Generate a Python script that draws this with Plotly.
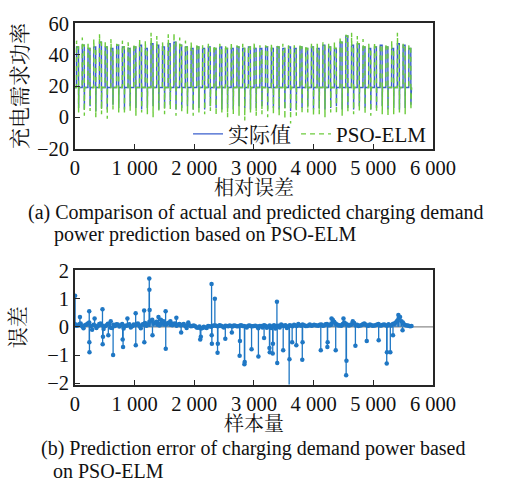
import plotly.graph_objects as go

# ---------------- data ----------------
SAMPLES_PER_DAY = 96

# daily plateau and dip levels of the measured charging demand power
actual_high = [45, 46, 44, 45, 48, 45, 44, 46, 45, 44,
               45, 46, 44, 47, 46, 45, 47, 48, 46, 45,
               44, 45, 44, 45, 44, 45, 44, 44, 45, 44,
               45, 44, 44, 45, 44, 45, 44, 45, 44, 45,
               44, 45, 44, 46, 45, 44, 48, 52, 46, 47,
               45, 44, 45, 46, 45, 44, 47, 46, 44]
actual_dip = [6, 5, 7, 4, 6, 5, 8, 6, 5, 7,
              6, 5, 6, 7, 5, 6, 8, 5, 6, 7,
              5, 6, 5, 7, 6, 5, 6, 5, 7, 6,
              5, 6, 7, 5, 6, 5, 6, 4, 5, 6,
              7, 5, 6, 5, 6, 7, 5, 6, 5, 7,
              6, 5, 6, 7, 5, 6, 5, 6, 8]
actual_night = 19

# PSO-ELM predicted plateau overshoot and dip levels
pred_high = [49, 51, 47, 50, 53, 48, 50, 47, 49, 48,
             47, 50, 49, 54, 52, 48, 53, 54, 51, 49,
             48, 47, 46, 47, 46, 47, 46, 48, 46, 47,
             46, 48, 46, 46, 47, 46, 47, 46, 46, 47,
             46, 47, 47, 48, 47, 48, 51, 53, 54, 52,
             50, 47, 48, 46, 47, 49, 54, 47, 46]
pred_dip = [3, 1, 4, 0, 2, -1, 5, 3, 2, 4,
            1, 3, 2, 0, 4, 2, 5, 1, 3, 2,
            1, 3, 2, 4, 1, 3, 0, 2, 1, -2,
            3, 1, 2, 0, 2, 1, -1, -4, 1, 2,
            3, 1, 2, 0, 3, 2, 1, 3, 2, 4,
            2, 1, 3, 2, 1, 2, 3, 2, 5]
pred_night = 19

# prediction error: background band, samples 0, 48, 96, ...
BAND_STEP = 48
band_err = [0.10, 0.05, 0.12, -0.05, 0.08, 0.15, -0.10, 0.05, 0.02, 0.12,
            -0.08, 0.06, 0.10, -0.04, 0.03, 0.08, 0.05, -0.06, 0.04, 0.09, 0.02,
            0.06, 0.12, -0.05, 0.10, 0.04, 0.18, 0.25, 0.15, 0.08, 0.12,
            0.20, 0.10, 0.15, 0.06, 0.12, 0.08, 0.05, 0.10, -0.04, 0.06, 0.03,
            0.02, -0.03, -0.06, 0.00, -0.04, 0.02, 0.03, 0.05, 0.02, 0.04,
            -0.02, 0.03, 0.05, 0.01, 0.04, 0.02, 0.06, 0.03, -0.02, 0.05, 0.02,
            0.04, -0.05, 0.03, 0.06, -0.03, 0.05, 0.02, -0.06, 0.04, 0.08,
            0.03, -0.04, 0.06, 0.02, 0.05, 0.10, 0.04, 0.06, 0.03, 0.08, 0.05,
            0.06, 0.04, 0.08, 0.05, 0.10, 0.06, 0.25, 0.12, 0.05, 0.04,
            0.15, 0.08, 0.06, 0.20, 0.05, 0.03, 0.06, 0.12, 0.05, 0.08, 0.04,
            0.06, 0.10, 0.05, 0.08, 0.04, 0.06, 0.10, 0.15, 0.30, 0.20,
            0.08, 0.05, 0.02]
# prediction error: background band, samples 24, 72, 120, ...
band_err_mid = [0.04, 0.09, 0.02, 0.06, 0.12, 0.03, 0.07, -0.04, 0.10, 0.05,
                0.02, 0.11, -0.03, 0.07, 0.09, 0.01, 0.10, 0.04, 0.06, -0.02, 0.08,
                0.10, 0.03, 0.08, 0.14, 0.09, 0.22, 0.12, 0.18, 0.05, 0.16,
                0.08, 0.14, 0.09, 0.11, 0.04, 0.10, 0.07, 0.03, 0.08, 0.02, 0.05,
                -0.02, 0.01, -0.04, -0.02, 0.03, 0.00, 0.05, 0.03, 0.06, 0.01,
                0.04, 0.02, 0.03, 0.05, 0.02, 0.04, 0.03, 0.01, 0.04, 0.02, 0.03,
                0.02, 0.03, -0.02, 0.04, 0.01, -0.04, 0.06, 0.03, -0.02, 0.05,
                0.06, 0.02, 0.04, 0.07, 0.03, 0.06, 0.08, 0.03, 0.05, 0.04, 0.07,
                0.05, 0.07, 0.04, 0.09, 0.06, 0.12, 0.18, 0.08, 0.06, 0.10,
                0.12, 0.05, 0.09, 0.14, 0.07, 0.05, 0.09, 0.08, 0.04, 0.06, 0.05,
                0.08, 0.05, 0.07, 0.06, 0.09, 0.05, 0.12, 0.22, 0.35, 0.15,
                0.06, 0.04, 0.03]

# prediction error: isolated large deviations
spike_idx = [3, 84, 240, 242, 244, 330, 462, 465, 470, 560,
             600, 640, 800, 807, 880, 1018, 1020, 1160, 1163, 1246,
             1248, 1252, 1300, 1400, 1440, 1520, 1522, 1600, 1700, 1780,
             1900, 2100, 2110, 2290, 2292, 2295, 2345, 2390, 2395, 2520,
             2630, 2760, 2765, 2840, 2845, 2960, 3075, 3170, 3260, 3265,
             3315, 3318, 3385, 3390, 3490, 3590, 3595, 3640, 3710, 3810,
             3815, 4120, 4230, 4235, 4300, 4370, 4500, 4545, 4550, 4700,
             4890, 5090, 5225, 5228, 5285, 5330, 5420, 5490]
spike_err = [1.10, 0.35, 0.55, -0.55, -0.90, 0.30, 0.62, -0.62, -0.35, -0.30,
             0.20, -1.00, -0.45, -0.72, 0.30, 0.48, -0.65, 0.58, -0.55, 1.72,
             1.32, 0.60, -0.30, 0.35, 0.25, 0.55, -0.78, 0.20, 0.32, -0.20,
             0.15, -0.45, -0.35, 1.52, -0.30, -0.60, 1.00, -0.92, -0.60, -0.42,
             -0.20, -1.03, -0.50, -1.33, -1.25, -0.80, -1.05, -0.40, -0.75, -0.90,
             -0.95, -0.60, 0.89, -1.28, -0.83, -2.30, -1.15, -0.55, -0.65, -1.17,
             -0.55, -0.83, -0.72, -0.55, 0.30, -0.83, 0.30, -1.72, -1.20, -0.67,
             -0.50, -0.48, -1.30, -0.90, -0.90, -0.30, 0.42, -0.12]

x_tickvals = [0, 1000, 2000, 3000, 4000, 5000, 6000]
x_ticktext = ["0", "1 000", "2 000", "3 000", "4 000", "5 000", "6 000"]
y1_tickvals = [-20, 0, 20, 40, 60]
y2_tickvals = [-2, -1, 0, 1, 2]
end_sample = 5640

# ---------------- build the series ----------------
# within-day sample offsets: night, rise, plateau, drop to dip, recovery
def day_series(high, dip, night, over=None):
    xs, ys = [], []
    for d in range(len(high)):
        s = d * SAMPLES_PER_DAY
        top = high[d]
        peak = over[d] if over is not None else top
        xs += [s, s + 26, s + 28, s + 31, s + 60, s + 62, s + 65]
        ys += [night, night, peak, top, top, dip[d], night]
    xs.append(end_sample)
    ys.append(night)
    return xs, ys

ax, ay = day_series(actual_high, actual_dip, actual_night)
px, py = day_series(actual_high, pred_dip, pred_night, over=pred_high)

err_x = ([i * BAND_STEP for i in range(len(band_err))]
         + [i * BAND_STEP + BAND_STEP // 2 for i in range(len(band_err_mid))]
         + spike_idx)
err_y = band_err + band_err_mid + spike_err
order = sorted(range(len(err_x)), key=lambda i: err_x[i])
err_x = [err_x[i] for i in order]
err_y = [err_y[i] for i in order]
stem_x, stem_y = [], []
for xv, yv in zip(err_x, err_y):
    stem_x += [xv, xv, None]
    stem_y += [0, yv, None]

# ---------------- figure ----------------
FONT = "Liberation Serif, Noto Serif CJK SC, Noto Sans CJK SC"
W, H = 507, 494
BLUE = "#3a5fcd"
GREEN = "#6ccb3c"
STEM = "#1f77c4"
AXC = "#262626"
FS = 20.5

fig = go.Figure()
fig.add_trace(go.Scatter(x=ax, y=ay, mode="lines", name="实际值",
                         line=dict(color=BLUE, width=1.4),
                         xaxis="x", yaxis="y"))
fig.add_trace(go.Scatter(x=px, y=py, mode="lines", name="PSO-ELM",
                         line=dict(color=GREEN, width=1.4, dash="5px,4px"),
                         xaxis="x", yaxis="y"))
fig.add_trace(go.Scatter(x=stem_x, y=stem_y, mode="lines", showlegend=False,
                         line=dict(color=STEM, width=1.3),
                         xaxis="x2", yaxis="y2"))
fig.add_trace(go.Scatter(x=err_x, y=err_y, mode="markers", showlegend=False,
                         marker=dict(color=STEM, size=4.5),
                         xaxis="x2", yaxis="y2"))

def py_(p):
    return 1 - p / H

def px_(p):
    return p / W

common_x = dict(range=[0, 6000], tickvals=x_tickvals, ticktext=x_ticktext,
                ticks="inside", ticklen=5, tickwidth=1.2, tickcolor=AXC,
                showline=True, linecolor=AXC, linewidth=1.5, mirror=True,
                showgrid=False, zeroline=False,
                tickfont=dict(family=FONT, size=FS, color="#111"))
common_y = dict(ticks="inside", ticklen=5, tickwidth=1.2, tickcolor=AXC,
                showline=True, linecolor=AXC, linewidth=1.5, mirror=True,
                showgrid=False, zeroline=False,
                tickfont=dict(family=FONT, size=FS, color="#111"))

fig.update_layout(
    width=W, height=H,
    margin=dict(l=0, r=0, t=0, b=0),
    paper_bgcolor="white", plot_bgcolor="white",
    font=dict(family=FONT, size=FS, color="#111"),
    xaxis=dict(domain=[px_(74), px_(453)], anchor="y", **common_x),
    yaxis=dict(domain=[py_(144), py_(13)], anchor="x", range=[-20, 60],
               tickvals=y1_tickvals,
               title=dict(text="充电需求功率", standoff=4,
                          font=dict(family=FONT, size=21)),
               **common_y),
    xaxis2=dict(domain=[px_(74), px_(453)], anchor="y2", **common_x),
    yaxis2=dict(domain=[py_(391), py_(271)], anchor="x2", range=[-2.05, 2.02],
                tickvals=y2_tickvals,
                title=dict(text="误差", standoff=16,
                           font=dict(family=FONT, size=21)),
                **common_y),
    legend=dict(orientation="h", x=px_(452), xanchor="right",
                y=py_(129), yanchor="middle", bgcolor="rgba(0,0,0,0)",
                font=dict(family=FONT, size=21), itemwidth=30,
                tracegroupgap=0),
    shapes=[dict(type="line", xref="x2 domain", x0=0, x1=1, yref="y2",
                 y0=0, y1=0, line=dict(color="#8c8c8c", width=1.2),
                 layer="below")],
)

# x-axis titles, centred under each plot area
for txt, ycen in (("相对误差", 185), ("样本量", 432)):
    fig.add_annotation(text=txt, xref="paper", yref="paper",
                       x=px_(263.5), y=py_(ycen), xanchor="center",
                       yanchor="middle", showarrow=False, borderpad=0,
                       font=dict(family=FONT, size=20, color="#111"))

CAP_FS = 20
captions = [
    (23, 211, "(a) Comparison of actual and predicted charging demand"),
    (51, 234, "power prediction based on PSO-ELM"),
    (37, 458, "(b) Prediction error of charging demand power based"),
    (50, 481, "on PSO-ELM"),
]
for x0, y0, txt in captions:
    fig.add_annotation(text=txt, xref="paper", yref="paper",
                       x=px_(x0), y=py_(y0), xanchor="left", yanchor="middle",
                       showarrow=False, borderpad=0,
                       font=dict(family=FONT, size=CAP_FS, color="#111"))

fig.write_html("out.html")
